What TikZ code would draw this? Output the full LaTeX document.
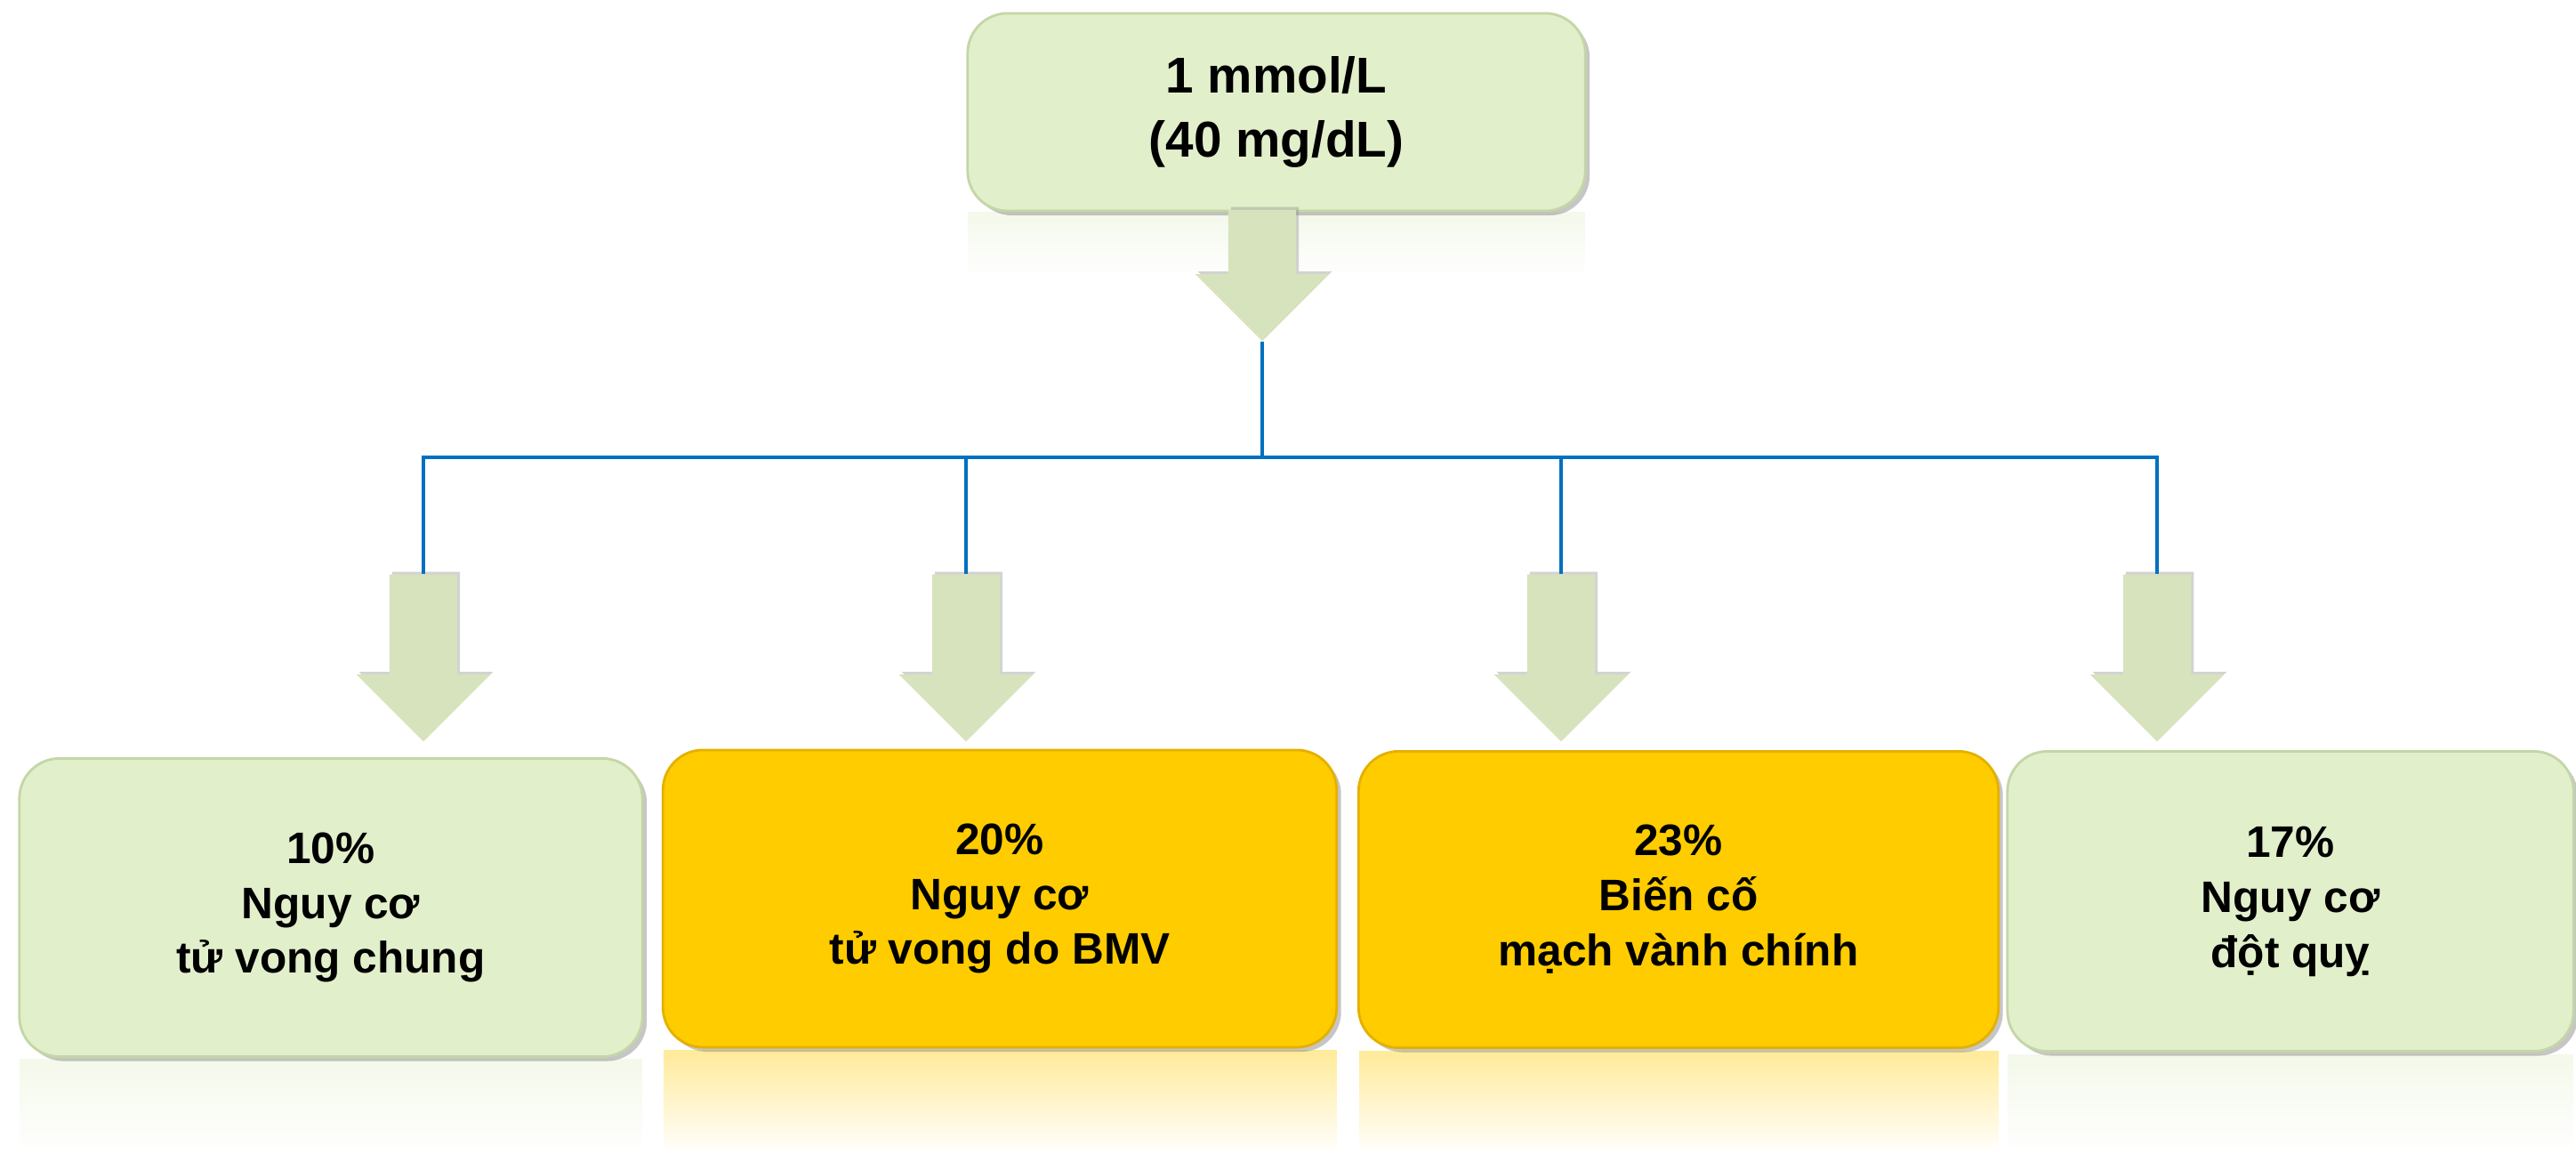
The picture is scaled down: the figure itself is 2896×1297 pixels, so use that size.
\documentclass[tikz,border=0pt]{standalone}
\usepackage{fontspec}
\setmainfont{Liberation Sans}
\usetikzlibrary{shapes,arrows,shadows,fadings}

\definecolor{boxgreen}{RGB}{226,239,203}
\definecolor{edgegreen}{RGB}{196,214,166}
\definecolor{boxyellow}{RGB}{255,204,0}
\definecolor{edgeyellow}{RGB}{228,176,0}
\definecolor{arrowgreen}{RGB}{215,227,188}
\definecolor{lineblue}{RGB}{0,112,192}

\begin{document}
\begin{tikzpicture}
    [x=0.01cm,y=-0.01cm,
box/.style={rectangle,rounded corners=0.45cm,align=center,line width=0.8pt,
  font=\bfseries\fontsize{14.1}{17.6}\selectfont,
  drop shadow={shadow xshift=0.05cm,shadow yshift=-0.05cm,opacity=0.45}},
greenbox/.style={box,fill=boxgreen,draw=edgegreen},
yellowbox/.style={box,fill=boxyellow,draw=edgeyellow},
downarrow/.style={single arrow,rotate=-90,anchor=tail,fill=arrowgreen,
  inner ysep=0.375cm,minimum width=0pt,minimum height=0pt,
  single arrow head extend=0.37cm,single arrow tip angle=90,
  single arrow head indent=0pt,
  drop shadow={shadow xshift=0.03cm,shadow yshift=0.03cm,opacity=0.35}},
reflect/.style={path fading=south,opacity=0.4},
blueline/.style={draw=lineblue,line width=1.4pt}
]
\useasboundingbox (0,0) rectangle (2896,1297);

\fill[boxgreen,reflect] (1088,238) rectangle (1782,312);
\fill[boxgreen,reflect] (22,1190) rectangle (722,1297);
\fill[boxyellow,reflect] (746,1180) rectangle (1503,1297);
\fill[boxyellow,reflect] (1528,1181) rectangle (2247,1297);
\fill[boxgreen,reflect] (2257,1185) rectangle (2893,1297);

\node[greenbox,minimum width=6.94cm,minimum height=2.22cm,
  font=\bfseries\fontsize{16.1}{20.3}\selectfont] (top) at (1435,126)
  {1 mmol/L\\(40 mg/dL)};

\node[downarrow,inner xsep=0.54cm] (toparrow) at (1419,235) {};

\node[downarrow,inner xsep=0.74cm] (arr1) at (476,645) {};
\node[downarrow,inner xsep=0.74cm] (arr2) at (1086,645) {};
\node[downarrow,inner xsep=0.74cm] (arr3) at (1755,645) {};
\node[downarrow,inner xsep=0.74cm] (arr4) at (2425,645) {};

\coordinate (split) at (1419,514);
\draw[blueline] (toparrow.tip) -- (split);
\foreach \i in {1,...,4}
  \draw[blueline] (split) -| (arr\i.tail);

\node[greenbox,minimum width=7cm,minimum height=3.35cm] (risk1) at (372,1020)
  {10\%\\Nguy cơ\\tử vong chung};
\node[yellowbox,minimum width=7.57cm,minimum height=3.34cm] (risk2) at (1124,1010)
  {20\%\\Nguy cơ\\tử vong do BMV};
\node[yellowbox,minimum width=7.19cm,minimum height=3.33cm] (risk3) at (1887,1011)
  {23\%\\Biến cố\\mạch vành chính};
\node[greenbox,minimum width=6.36cm,minimum height=3.37cm] (risk4) at (2575,1013)
  {17\%\\Nguy cơ\\đột quỵ};
\end{tikzpicture}
\end{document}
